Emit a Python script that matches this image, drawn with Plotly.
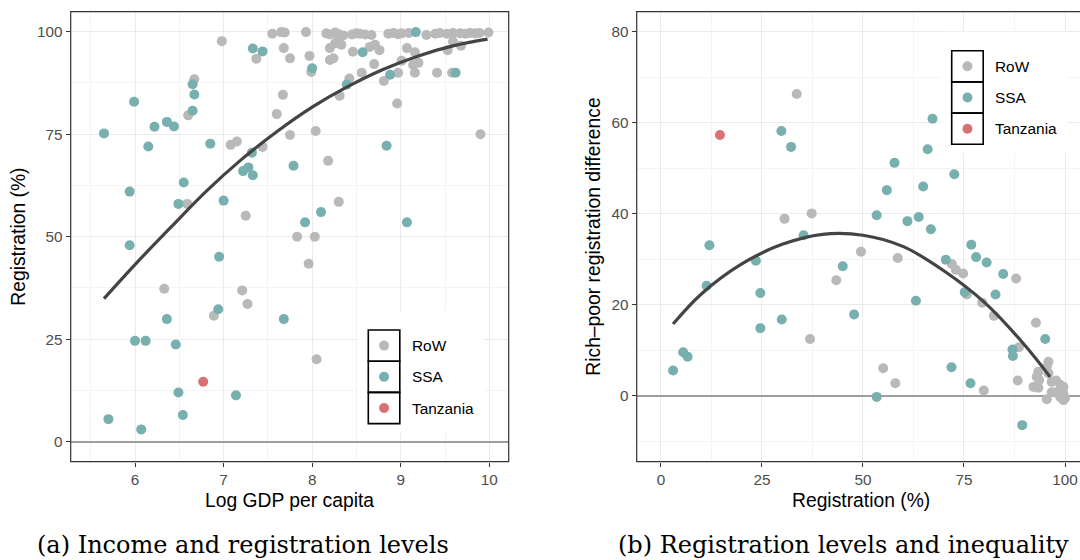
import plotly.graph_objects as go

W, H = 1080, 560

# ---------------- Data: panel (a) ----------------
row_a_x = [6.98, 6.67, 6.60, 7.37, 7.55, 7.65, 7.69, 7.68, 7.75, 7.67, 7.60, 7.75, 7.08, 7.15, 7.44,
           6.59, 7.25, 6.33, 7.21, 7.27, 6.89, 7.83, 8.03, 7.96, 8.05,
           7.93, 8.16, 8.20, 8.26, 8.30, 8.35, 8.45, 8.50, 8.54, 8.60, 8.67, 8.86, 8.92, 8.97, 9.01,
           9.09, 9.29, 9.39, 9.44, 9.52, 9.59, 9.67, 9.73, 9.78, 9.84, 9.89, 9.99,
           8.20, 8.26, 8.33, 8.30, 8.46, 8.65, 8.71, 8.76, 9.07, 9.16, 9.53, 9.68, 9.59,
           7.97, 8.20, 8.24, 9.01, 9.14, 9.20, 7.99, 8.56, 8.70, 8.97, 9.16, 9.41, 9.58, 8.42, 8.81,
           8.31, 8.96, 8.04, 9.90, 8.18, 8.30]
row_a_y = [97.7, 88.4, 79.6, 93.4, 99.5, 99.9, 99.8, 96.0, 93.5, 84.6, 79.9, 74.8, 72.4, 73.2, 71.9,
           58.0, 55.1, 37.3, 36.9, 33.6, 30.7, 50.0, 50.0, 43.4, 20.1,
           99.9, 99.6, 99.3, 99.8, 99.4, 99.1, 99.3, 99.6, 99.5, 99.3, 99.2, 99.5, 99.7, 99.4, 99.6,
           99.7, 99.2, 99.5, 99.7, 99.5, 99.7, 99.6, 99.5, 99.7, 99.6, 99.7, 99.8,
           96.0, 97.2, 96.8, 98.4, 95.1, 96.3, 96.8, 95.5, 96.0, 95.0, 95.5, 96.6, 97.6,
           94.1, 93.1, 93.5, 92.9, 91.9, 92.4, 90.2, 90.0, 92.1, 90.0, 90.0, 90.0, 90.0, 88.6, 88.0,
           84.4, 82.5, 75.8, 75.0, 68.5, 58.5]

ssa_a_x = [5.65, 5.99, 6.22, 6.36, 6.44, 6.15, 5.94, 6.65, 6.67, 6.65, 6.85, 6.55, 6.49, 7.00,
           7.33, 7.44, 7.32, 7.28, 7.22, 7.33, 7.79, 5.94, 6.95, 6.94, 6.36, 6.00, 6.12, 6.46,
           7.68, 6.49, 7.14, 5.70, 6.54, 6.07, 9.17, 8.57, 8.00, 8.39, 8.88, 9.62, 8.84, 8.10,
           7.92, 9.07]
ssa_a_y = [75.2, 82.9, 76.8, 78.0, 76.9, 72.0, 61.0, 87.2, 84.7, 80.7, 72.7, 63.2, 58.0, 58.8,
           95.9, 95.2, 70.5, 66.9, 66.0, 65.0, 67.3, 47.9, 45.1, 32.3, 29.9, 24.6, 24.6, 23.7,
           29.9, 12.0, 11.3, 5.5, 6.5, 3.0, 99.9, 95.0, 91.1, 87.1, 89.5, 90.0, 72.2, 56.0,
           53.5, 53.5]

tza_a_x = [6.77]
tza_a_y = [14.6]

fit_a_x = [5.65, 6.0, 6.4, 6.8, 7.2, 7.6, 8.0, 8.4, 8.8, 9.2, 9.6, 9.98]
fit_a_y = [34.9, 43.2, 52.2, 61.0, 68.8, 75.6, 81.6, 86.6, 90.8, 94.1, 96.6, 98.2]

# ---------------- Data: panel (b) ----------------
row_b_x = [33.6, 30.6, 37.3, 36.9, 43.4, 49.5, 58.6, 87.9, 72.0, 73.0, 74.8, 75.7, 79.5, 82.4,
           92.8, 88.6, 55.0, 58.0, 79.9, 88.3,
           95.9, 95.5, 93.4, 93.0, 95.9, 93.6, 92.2, 93.4, 96.7, 97.8, 98.9, 99.6, 96.7, 98.1,
           99.6, 98.8, 100.0, 95.5, 99.6]
row_b_y = [66.3, 38.9, 40.1, 12.5, 25.4, 31.7, 30.3, 25.8, 29.0, 27.7, 26.9, 22.3, 20.5, 17.6,
           16.1, 10.7, 6.1, 2.8, 1.2, 3.4,
           7.5, 6.4, 5.3, 4.2, 5.0, 3.5, 2.0, 1.8, 3.1, 3.4, 2.4, 2.0, 0.8, 0.9,
           0.6, -0.2, -0.5, -0.7, -0.9]

ssa_b_x = [29.8, 32.2, 35.3, 12.0, 23.5, 11.3, 24.6, 24.6, 29.9, 5.5, 6.6, 3.0, 45.0, 47.8,
           67.2, 66.0, 57.8, 72.6, 55.9, 64.9, 53.4, 61.0, 63.8, 66.8, 76.8, 78.0, 80.6, 84.7,
           70.5, 75.2, 82.8, 63.1, 95.1, 87.0, 87.1, 71.9, 76.6, 53.4, 89.4]
ssa_b_y = [58.2, 54.7, 35.3, 33.1, 29.7, 24.2, 22.6, 14.9, 16.8, 9.6, 8.6, 5.6, 28.5, 17.9,
           60.9, 54.2, 51.2, 48.7, 45.2, 46.0, 39.7, 38.4, 39.3, 36.6, 33.2, 30.5, 29.3, 26.8,
           29.9, 22.8, 22.3, 20.9, 12.5, 10.2, 8.8, 6.3, 2.8, -0.2, -6.4]

tza_b_x = [14.6]
tza_b_y = [57.3]

fit_b_x = [3.0, 10.0, 20.0, 30.0, 40.0, 50.0, 60.0, 70.0, 80.0, 90.0, 96.3]
fit_b_y = [15.8, 22.4, 29.0, 33.3, 35.5, 35.3, 32.8, 27.5, 20.6, 11.2, 4.2]

group_labels = ["RoW", "SSA", "Tanzania"]
group_colors = ["#B9B9B9", "#78AFAF", "#D77272"]

captions = ["(a) Income and registration levels", "(b) Registration levels and inequality"]

# ---------------- Figure ----------------
SANS = "Liberation Sans, Arial, sans-serif"
fig = go.Figure()

def add_points(xs, ys, color, xa, ya):
    fig.add_trace(go.Scatter(x=xs, y=ys, mode="markers", xaxis=xa, yaxis=ya, showlegend=False,
                             marker=dict(size=10, color=color, line=dict(width=0)),
                             hoverinfo="skip"))

add_points(row_a_x, row_a_y, group_colors[0], "x", "y")
add_points(ssa_a_x, ssa_a_y, group_colors[1], "x", "y")
add_points(tza_a_x, tza_a_y, group_colors[2], "x", "y")
fig.add_trace(go.Scatter(x=fit_a_x, y=fit_a_y, mode="lines", xaxis="x", yaxis="y", showlegend=False,
                         line=dict(color="#444444", width=3.2, shape="spline"), hoverinfo="skip"))

add_points(row_b_x, row_b_y, group_colors[0], "x2", "y2")
add_points(ssa_b_x, ssa_b_y, group_colors[1], "x2", "y2")
add_points(tza_b_x, tza_b_y, group_colors[2], "x2", "y2")
fig.add_trace(go.Scatter(x=fit_b_x, y=fit_b_y, mode="lines", xaxis="x2", yaxis="y2", showlegend=False,
                         line=dict(color="#444444", width=3.2, shape="spline"), hoverinfo="skip"))

def px(xp):
    return xp / W

def py(yp):
    return 1 - yp / H

axis_common = dict(showline=False, showgrid=True, gridcolor="#EBEBEB", gridwidth=1.1,
                   ticks="outside", ticklen=4, tickwidth=1.1, tickcolor="#333333",
                   tickfont=dict(family=SANS, size=15.3, color="#4D4D4D"))
yzero = dict(zeroline=True, zerolinecolor="#9E9E9E", zerolinewidth=1.5)

minor_style = dict(showgrid=True, gridcolor="#F4F4F4", gridwidth=0.6, ticks="")

fig.update_layout(
    width=W, height=H, margin=dict(l=0, r=0, t=0, b=0),
    paper_bgcolor="white", plot_bgcolor="white", showlegend=False,
    xaxis=dict(domain=[px(70.7), px(508.7)], range=[5.274, 10.219], tick0=0, dtick=1, zeroline=False,
               minor=dict(dtick=0.5, tick0=0, **minor_style), anchor="y", **axis_common),
    yaxis=dict(domain=[py(461.7), py(11.7)], range=[-4.88, 104.88], tick0=0, dtick=25,
               minor=dict(dtick=12.5, tick0=0, **minor_style), anchor="x", **yzero, **axis_common),
    xaxis2=dict(domain=[px(636.7), 1.0], range=[-6.0, 103.71], tick0=0, dtick=25, zeroline=False,
                minor=dict(dtick=12.5, tick0=0, **minor_style), anchor="y2", **axis_common),
    yaxis2=dict(domain=[py(461.7), py(11.7)], range=[-14.43, 84.39], tick0=0, dtick=20,
                minor=dict(dtick=10, tick0=0, **minor_style), anchor="x2", **yzero, **axis_common),
)

shapes = []
annotations = []

# panel borders
shapes.append(dict(type="rect", xref="paper", yref="paper", x0=px(70.7), x1=px(508.7),
                   y0=py(461.7), y1=py(11.7), line=dict(color="#333333", width=1.2), layer="above"))
shapes.append(dict(type="rect", xref="paper", yref="paper", x0=px(636.7), x1=px(1086),
                   y0=py(461.7), y1=py(11.7), line=dict(color="#333333", width=1.2), layer="above"))

# legends
def legend_block(left, top):
    cw, ch = 31.5, 31.2
    shapes.append(dict(type="rect", xref="paper", yref="paper", x0=px(left - 11), x1=px(left - 11 + 126.6),
                       y0=py(top + 3 * ch + 9), y1=py(top - 19), fillcolor="white",
                       line=dict(width=0), layer="above"))
    for i, (lab, col) in enumerate(zip(group_labels, group_colors)):
        t = top + i * ch
        shapes.append(dict(type="rect", xref="paper", yref="paper", x0=px(left), x1=px(left + cw),
                           y0=py(t + ch), y1=py(t), line=dict(color="black", width=1.6),
                           fillcolor="rgba(0,0,0,0)", layer="above"))
        cx, cy = left + cw / 2, t + ch / 2
        shapes.append(dict(type="circle", xref="paper", yref="paper", x0=px(cx - 5), x1=px(cx + 5),
                           y0=py(cy + 5), y1=py(cy - 5), fillcolor=col, line=dict(width=0), layer="above"))
        annotations.append(dict(xref="paper", yref="paper", x=px(left + 41.5), y=py(cy), text=lab,
                                showarrow=False, xanchor="left", yanchor="middle",
                                font=dict(family=SANS, size=15.4, color="black")))

legend_block(368.3, 330.0)
legend_block(951.7, 50.7)

# axis titles
title_font = dict(family=SANS, size=19.3, color="black")
annotations.append(dict(xref="paper", yref="paper", x=px(289.7), y=py(500), text="Log GDP per capita",
                        showarrow=False, xanchor="center", yanchor="middle", font=title_font))
annotations.append(dict(xref="paper", yref="paper", x=px(19), y=py(236.7), text="Registration (%)",
                        showarrow=False, xanchor="center", yanchor="middle", textangle=-90, font=title_font))
annotations.append(dict(xref="paper", yref="paper", x=px(861), y=py(500), text="Registration (%)",
                        showarrow=False, xanchor="center", yanchor="middle", font=title_font))
annotations.append(dict(xref="paper", yref="paper", x=px(594), y=py(236.7),
                        text="Rich\u2013poor registration difference",
                        showarrow=False, xanchor="center", yanchor="middle", textangle=-90, font=title_font))

# captions
cap_font = dict(family="DejaVu Serif, Liberation Serif, serif", size=24, color="black")
annotations.append(dict(xref="paper", yref="paper", x=px(243), y=py(545), text=captions[0],
                        showarrow=False, xanchor="center", yanchor="middle", font=cap_font))
annotations.append(dict(xref="paper", yref="paper", x=px(843), y=py(545), text=captions[1],
                        showarrow=False, xanchor="center", yanchor="middle", font=cap_font))

fig.update_layout(shapes=shapes, annotations=annotations)

fig.write_html("out.html")
